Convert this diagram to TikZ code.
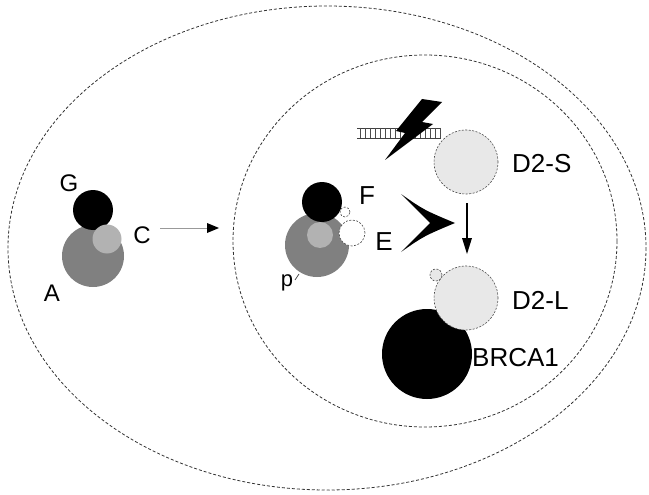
\documentclass[tikz,border=0pt]{standalone}
\usepackage{fontspec}
\setmainfont{Liberation Sans}
\begin{document}
\begin{tikzpicture}[x=1pt,y=-1pt,
  lbl/.style={font=\fontsize{26}{26}\selectfont, inner sep=0pt},
  slbl/.style={font=\fontsize{24}{24}\selectfont, inner sep=0pt},
  cellwall/.style={draw=black!80, line width=0.8pt, dash pattern=on 3pt off 2pt},
  dotline/.style={draw=black!70, line width=0.6pt, dash pattern=on 2pt off 1.5pt},
  blob/.style={circle, inner sep=0pt, minimum size=#1},
  darkgray/.style={fill=black!50},
  midgray/.style={fill=black!30},
  palegray/.style={fill=black!9}]
\useasboundingbox (0,0) rectangle (649,495);

% cell and nucleus
\draw[cellwall] (327,248) ellipse [x radius=319, y radius=242];
\draw[cellwall] (425,241) ellipse [x radius=192, y radius=186];

% complex in the cytoplasm
\node[blob=62pt, darkgray] (A) at (93,256) {};
\node[blob=40pt, fill=black] (G) at (93,210) {};
\node[blob=29pt, midgray] (C) at (107,239) {};
\node[slbl] (Gl) at (69,183) {G};
\node[slbl] (Cl) at (142,235) {C};
\node[slbl] (Al) at (52,293) {A};

% import into the nucleus
\coordinate (arrS) at (160,228);
\coordinate (arrE) at (219,228);
\draw[black!40, line width=0.5pt] (arrS) -- (208,228);
\fill (arrE) -- (207,223) -- (207,233) -- cycle;

% complex in the nucleus
\node[blob=64pt, darkgray] (A2) at (317,245) {};
\node[blob=40pt, fill=black] (G2) at (322,202) {};
\node[blob=26pt, midgray] (C2) at (320,235) {};
\node[blob=10pt, fill=white, dotline] (F2) at (345,212) {};
\node[blob=26pt, fill=white, dotline] (E2) at (352,233) {};
\draw[black!70, line width=0.8pt] (299,274) -- (295,280);
\node[lbl] (Fl) at (367,196) {F};
\node[lbl] (El) at (384,242) {E};
\node[slbl, font=\fontsize{22}{22}\selectfont] (pl) at (287,283) {p};

% chevron
\fill (401,194) .. controls (424,210) .. (455,223) .. controls (424,236) .. (401,252)
      -- (430,223) -- cycle;

% DNA strand with damage
\draw[black!75, line width=0.7pt] (357,128) -- (441,128);
\draw[black!75, line width=0.7pt] (357,138) -- (441,138);
\foreach \xx in {360,365,...,440}
  \draw[black!70, line width=0.6pt] (\xx,128) -- (\xx,138);
\fill (422,99) -- (442,102) -- (422,122) -- (433,124) -- (385,160)
      -- (405,133) -- (396,131) -- cycle;

% D2 forms
\node[blob=64pt, palegray, dotline] (D2S) at (466,162) {};
\node[lbl, anchor=west] (D2Sl) at (512,164) {D2-S};
\draw[line width=1.2pt] (467,203) -- (467,240);
\fill (467,254) -- (462,238) -- (472,238) -- cycle;

\node[blob=90pt, fill=black] (BRCA) at (427,354) {};
\node[blob=64pt, palegray, dotline] (D2L) at (466,298) {};
\node[blob=12pt, palegray, dotline] (ub) at (436,275) {};
\node[lbl, anchor=west] (D2Ll) at (512,300) {D2-L};
\node[lbl, anchor=west] (Bl) at (472,358) {BRCA1};
\end{tikzpicture}
\end{document}
